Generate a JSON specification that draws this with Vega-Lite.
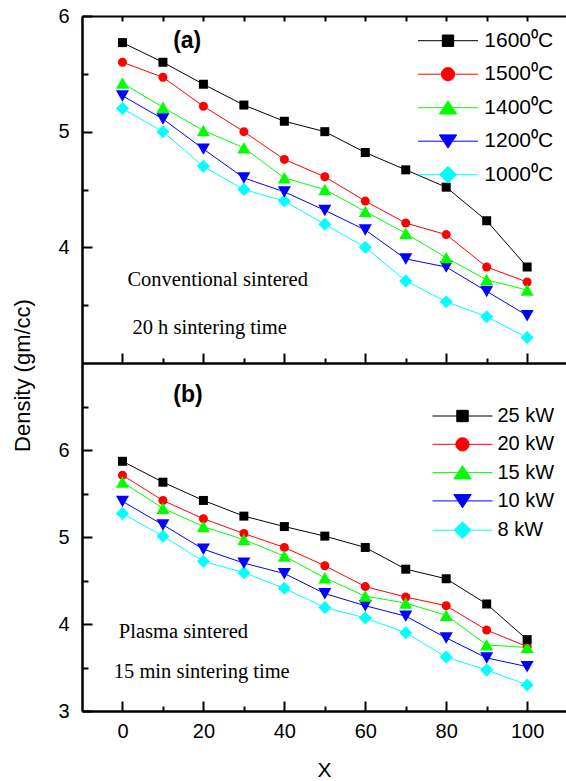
{
  "$schema": "https://vega.github.io/schema/vega-lite/v6.json",
  "padding": {"left": 10, "top": 6, "right": 0, "bottom": 0},
  "spacing": 0,
  "bounds": "flush",
  "datasets": {
    "a": [
      {"x": 0, "d": 5.20, "s": "1000\u2070C"}, {"x": 10, "d": 5.00, "s": "1000\u2070C"}, {"x": 20, "d": 4.70, "s": "1000\u2070C"}, {"x": 30, "d": 4.50, "s": "1000\u2070C"}, {"x": 40, "d": 4.40, "s": "1000\u2070C"}, {"x": 50, "d": 4.20, "s": "1000\u2070C"}, {"x": 60, "d": 4.00, "s": "1000\u2070C"}, {"x": 70, "d": 3.71, "s": "1000\u2070C"}, {"x": 80, "d": 3.53, "s": "1000\u2070C"}, {"x": 90, "d": 3.40, "s": "1000\u2070C"}, {"x": 100, "d": 3.22, "s": "1000\u2070C"},
      {"x": 0, "d": 5.31, "s": "1200\u2070C"}, {"x": 10, "d": 5.11, "s": "1200\u2070C"}, {"x": 20, "d": 4.85, "s": "1200\u2070C"}, {"x": 30, "d": 4.60, "s": "1200\u2070C"}, {"x": 40, "d": 4.48, "s": "1200\u2070C"}, {"x": 50, "d": 4.32, "s": "1200\u2070C"}, {"x": 60, "d": 4.15, "s": "1200\u2070C"}, {"x": 70, "d": 3.90, "s": "1200\u2070C"}, {"x": 80, "d": 3.83, "s": "1200\u2070C"}, {"x": 90, "d": 3.62, "s": "1200\u2070C"}, {"x": 100, "d": 3.41, "s": "1200\u2070C"},
      {"x": 0, "d": 5.60, "s": "1500\u2070C"}, {"x": 10, "d": 5.47, "s": "1500\u2070C"}, {"x": 20, "d": 5.22, "s": "1500\u2070C"}, {"x": 30, "d": 5.00, "s": "1500\u2070C"}, {"x": 40, "d": 4.76, "s": "1500\u2070C"}, {"x": 50, "d": 4.61, "s": "1500\u2070C"}, {"x": 60, "d": 4.40, "s": "1500\u2070C"}, {"x": 70, "d": 4.21, "s": "1500\u2070C"}, {"x": 80, "d": 4.11, "s": "1500\u2070C"}, {"x": 90, "d": 3.83, "s": "1500\u2070C"}, {"x": 100, "d": 3.70, "s": "1500\u2070C"},
      {"x": 0, "d": 5.42, "s": "1400\u2070C"}, {"x": 10, "d": 5.21, "s": "1400\u2070C"}, {"x": 20, "d": 5.01, "s": "1400\u2070C"}, {"x": 30, "d": 4.86, "s": "1400\u2070C"}, {"x": 40, "d": 4.60, "s": "1400\u2070C"}, {"x": 50, "d": 4.50, "s": "1400\u2070C"}, {"x": 60, "d": 4.31, "s": "1400\u2070C"}, {"x": 70, "d": 4.12, "s": "1400\u2070C"}, {"x": 80, "d": 3.91, "s": "1400\u2070C"}, {"x": 90, "d": 3.72, "s": "1400\u2070C"}, {"x": 100, "d": 3.63, "s": "1400\u2070C"},
      {"x": 0, "d": 5.77, "s": "1600\u2070C"}, {"x": 10, "d": 5.60, "s": "1600\u2070C"}, {"x": 20, "d": 5.41, "s": "1600\u2070C"}, {"x": 30, "d": 5.23, "s": "1600\u2070C"}, {"x": 40, "d": 5.09, "s": "1600\u2070C"}, {"x": 50, "d": 5.00, "s": "1600\u2070C"}, {"x": 60, "d": 4.82, "s": "1600\u2070C"}, {"x": 70, "d": 4.67, "s": "1600\u2070C"}, {"x": 80, "d": 4.52, "s": "1600\u2070C"}, {"x": 90, "d": 4.23, "s": "1600\u2070C"}, {"x": 100, "d": 3.83, "s": "1600\u2070C"}
    ],
    "b": [
      {"x": 0, "d": 5.27, "s": "8 kW"}, {"x": 10, "d": 5.01, "s": "8 kW"}, {"x": 20, "d": 4.72, "s": "8 kW"}, {"x": 30, "d": 4.59, "s": "8 kW"}, {"x": 40, "d": 4.41, "s": "8 kW"}, {"x": 50, "d": 4.19, "s": "8 kW"}, {"x": 60, "d": 4.07, "s": "8 kW"}, {"x": 70, "d": 3.90, "s": "8 kW"}, {"x": 80, "d": 3.62, "s": "8 kW"}, {"x": 90, "d": 3.47, "s": "8 kW"}, {"x": 100, "d": 3.30, "s": "8 kW"},
      {"x": 0, "d": 5.41, "s": "10 kW"}, {"x": 10, "d": 5.14, "s": "10 kW"}, {"x": 20, "d": 4.86, "s": "10 kW"}, {"x": 30, "d": 4.70, "s": "10 kW"}, {"x": 40, "d": 4.58, "s": "10 kW"}, {"x": 50, "d": 4.35, "s": "10 kW"}, {"x": 60, "d": 4.21, "s": "10 kW"}, {"x": 70, "d": 4.09, "s": "10 kW"}, {"x": 80, "d": 3.84, "s": "10 kW"}, {"x": 90, "d": 3.61, "s": "10 kW"}, {"x": 100, "d": 3.51, "s": "10 kW"},
      {"x": 0, "d": 5.71, "s": "20 kW"}, {"x": 10, "d": 5.42, "s": "20 kW"}, {"x": 20, "d": 5.21, "s": "20 kW"}, {"x": 30, "d": 5.04, "s": "20 kW"}, {"x": 40, "d": 4.88, "s": "20 kW"}, {"x": 50, "d": 4.67, "s": "20 kW"}, {"x": 60, "d": 4.43, "s": "20 kW"}, {"x": 70, "d": 4.31, "s": "20 kW"}, {"x": 80, "d": 4.21, "s": "20 kW"}, {"x": 90, "d": 3.93, "s": "20 kW"}, {"x": 100, "d": 3.74, "s": "20 kW"},
      {"x": 0, "d": 5.63, "s": "15 kW"}, {"x": 10, "d": 5.33, "s": "15 kW"}, {"x": 20, "d": 5.12, "s": "15 kW"}, {"x": 30, "d": 4.97, "s": "15 kW"}, {"x": 40, "d": 4.78, "s": "15 kW"}, {"x": 50, "d": 4.53, "s": "15 kW"}, {"x": 60, "d": 4.32, "s": "15 kW"}, {"x": 70, "d": 4.24, "s": "15 kW"}, {"x": 80, "d": 4.10, "s": "15 kW"}, {"x": 90, "d": 3.76, "s": "15 kW"}, {"x": 100, "d": 3.73, "s": "15 kW"},
      {"x": 0, "d": 5.87, "s": "25 kW"}, {"x": 10, "d": 5.63, "s": "25 kW"}, {"x": 20, "d": 5.42, "s": "25 kW"}, {"x": 30, "d": 5.24, "s": "25 kW"}, {"x": 40, "d": 5.12, "s": "25 kW"}, {"x": 50, "d": 5.01, "s": "25 kW"}, {"x": 60, "d": 4.88, "s": "25 kW"}, {"x": 70, "d": 4.63, "s": "25 kW"}, {"x": 80, "d": 4.52, "s": "25 kW"}, {"x": 90, "d": 4.23, "s": "25 kW"}, {"x": 100, "d": 3.82, "s": "25 kW"}
    ]
  },
  "resolve": {"scale": {"y": "independent"}},
  "vconcat": [
    {
      "width": 484,
      "height": 347,
      "data": {"name": "a"},
      "resolve": {"scale": {"color": "independent", "shape": "independent", "stroke": "independent"}, "axis": {"x": "independent", "y": "independent"}},
      "layer": [
        {
          "mark": {"type": "line", "strokeWidth": 1},
          "encoding": {
            "x": {"field": "x", "type": "quantitative", "scale": {"domain": [-10, 109.6], "nice": false, "zero": false}, "axis": {"orient": "bottom", "values": [0, 20, 40, 60, 80, 100], "labels": false, "tickSize": -10, "title": null}},
            "y": {"field": "d", "type": "quantitative", "scale": {"domain": [3, 6], "nice": false, "zero": false}, "axis": {"orient": "left", "values": [4, 5, 6], "tickSize": -10, "labelPadding": 23, "title": null}},
            "color": {"field": "s", "type": "nominal", "scale": {"domain": ["1600\u2070C", "1500\u2070C", "1400\u2070C", "1200\u2070C", "1000\u2070C"], "range": ["#000000", "#ff0000", "#00ff00", "#0000ff", "#00ffff"]}, "legend": null}
          }
        },
        {
          "mark": {"type": "point", "filled": true, "size": 81, "opacity": 1, "strokeWidth": 0},
          "encoding": {
            "x": {"field": "x", "type": "quantitative", "axis": {"orient": "bottom", "values": [10, 30, 50, 70, 90], "labels": false, "tickSize": -5, "title": null}},
            "y": {"field": "d", "type": "quantitative", "axis": {"orient": "left", "values": [3.5, 4.5, 5.5], "labels": false, "tickSize": -6, "title": null}},
            "color": {"field": "s", "type": "nominal", "scale": {"domain": ["1600\u2070C", "1500\u2070C", "1400\u2070C", "1200\u2070C", "1000\u2070C"], "range": ["#000000", "#ff0000", "#00ff00", "#0000ff", "#00ffff"]}, "legend": null},
            "shape": {"field": "s", "type": "nominal", "scale": {"domain": ["1600\u2070C", "1500\u2070C", "1400\u2070C", "1200\u2070C", "1000\u2070C"], "range": ["square", "circle", "M0,-1.3L1.45,1.25H-1.45Z", "M0,1.3L1.45,-1.25H-1.45Z", "M0,-1.45L1.45,0L0,1.45L-1.45,0Z"]}, "legend": null}
          }
        },
        {
          "transform": [{"filter": "false"}],
          "mark": {"type": "point", "filled": true, "opacity": 1},
          "encoding": {
            "x": {"field": "x", "type": "quantitative", "axis": null},
            "y": {"field": "d", "type": "quantitative", "axis": null},
            "color": {"field": "s", "type": "nominal", "scale": {"domain": ["1600\u2070C", "1500\u2070C", "1400\u2070C", "1200\u2070C", "1000\u2070C"], "range": ["#000000", "#ff0000", "#00ff00", "#0000ff", "#00ffff"]}, "legend": {"orient": "none", "legendX": 355.5, "legendY": 14.2, "title": null, "symbolSize": 144, "symbolStrokeWidth": 1, "symbolOpacity": 1, "labelFont": "Liberation Sans", "labelFontSize": 21, "labelColor": "black", "labelOffset": 25.8, "rowPadding": 11.5, "padding": 0, "labelLimit": 0}},
            "stroke": {"field": "s", "type": "nominal", "scale": {"domain": ["1600\u2070C", "1500\u2070C", "1400\u2070C", "1200\u2070C", "1000\u2070C"], "range": ["#000000", "#ff0000", "#00ff00", "#0000ff", "#00ffff"]}, "legend": {"orient": "none", "legendX": 355.5, "legendY": 14.2, "title": null, "symbolSize": 144, "symbolStrokeWidth": 1, "symbolOpacity": 1, "labelFont": "Liberation Sans", "labelFontSize": 21, "labelColor": "black", "labelOffset": 25.8, "rowPadding": 11.5, "padding": 0, "labelLimit": 0}},
            "shape": {"field": "s", "type": "nominal", "scale": {"domain": ["1600\u2070C", "1500\u2070C", "1400\u2070C", "1200\u2070C", "1000\u2070C"], "range": ["M-5,0H5M-0.95,-0.95H0.95V0.95H-0.95Z", "M-5,0H5M1.1,0A1.1,1.1,0,1,1,-1.1,0A1.1,1.1,0,1,1,1.1,0Z", "M-5,0H5M0,-1.15L1.45,1.05H-1.45Z", "M-5,0H5M0,1.15L1.45,-1.05H-1.45Z", "M-5,0H5M0,-1.4L1.4,0L0,1.4L-1.4,0Z"]}, "legend": {"orient": "none", "legendX": 355.5, "legendY": 14.2, "title": null, "symbolSize": 144, "symbolStrokeWidth": 1, "symbolOpacity": 1, "labelFont": "Liberation Sans", "labelFontSize": 21, "labelColor": "black", "labelOffset": 25.8, "rowPadding": 11.5, "padding": 0, "labelLimit": 0}}
          }
        },
        {
          "data": {"values": [{"t": "(a)"}]},
          "mark": {"type": "text", "font": "Liberation Sans", "fontWeight": "bold", "fontSize": 23, "align": "center", "baseline": "middle", "color": "black"},
          "encoding": {
            "x": {"datum": 16.0, "type": "quantitative", "axis": {"orient": "top", "values": [0, 10, 20, 30, 40, 50, 60, 70, 80, 90, 100], "labels": false, "tickSize": -5, "title": null}},
            "y": {"datum": 5.78, "type": "quantitative", "axis": null},
            "text": {"field": "t"}
          }
        },
        {
          "data": {"values": [{"t": "Conventional sintered"}]},
          "mark": {"type": "text", "font": "Liberation Serif", "fontSize": 20.5, "align": "left", "baseline": "middle", "color": "black"},
          "encoding": {
            "x": {"datum": 1.23, "type": "quantitative", "axis": null},
            "y": {"datum": 3.718, "type": "quantitative", "axis": null},
            "text": {"field": "t"}
          }
        },
        {
          "data": {"values": [{"t": "20 h sintering time"}]},
          "mark": {"type": "text", "font": "Liberation Serif", "fontSize": 20.5, "align": "left", "baseline": "middle", "color": "black"},
          "encoding": {
            "x": {"datum": 2.47, "type": "quantitative", "axis": null},
            "y": {"datum": 3.303, "type": "quantitative", "axis": null},
            "text": {"field": "t"}
          }
        }
      ]
    },
    {
      "width": 484,
      "height": 348,
      "data": {"name": "b"},
      "resolve": {"scale": {"color": "independent", "shape": "independent", "stroke": "independent"}, "axis": {"x": "independent", "y": "independent"}},
      "layer": [
        {
          "mark": {"type": "line", "strokeWidth": 1},
          "encoding": {
            "x": {"field": "x", "type": "quantitative", "scale": {"domain": [-10, 109.6], "nice": false, "zero": false}, "axis": {"orient": "bottom", "values": [0, 20, 40, 60, 80, 100], "tickSize": -10, "labelPadding": 20, "title": "X", "titleFontSize": 21, "titlePadding": 18}},
            "y": {"field": "d", "type": "quantitative", "scale": {"domain": [3, 7], "nice": false, "zero": false}, "axis": {"orient": "left", "values": [3, 4, 5, 6], "tickSize": -10, "labelPadding": 23, "title": "Density (gm/cc)", "titleFontSize": 22, "titleAngle": -90, "titleX": -60, "titleY": 12, "titleAlign": "center", "titleBaseline": "middle"}},
            "color": {"field": "s", "type": "nominal", "scale": {"domain": ["25 kW", "20 kW", "15 kW", "10 kW", "8 kW"], "range": ["#000000", "#ff0000", "#00ff00", "#0000ff", "#00ffff"]}, "legend": null}
          }
        },
        {
          "mark": {"type": "point", "filled": true, "size": 81, "opacity": 1, "strokeWidth": 0},
          "encoding": {
            "x": {"field": "x", "type": "quantitative", "axis": {"orient": "bottom", "values": [10, 30, 50, 70, 90], "labels": false, "tickSize": -5, "title": null}},
            "y": {"field": "d", "type": "quantitative", "axis": {"orient": "left", "values": [3.5, 4.5, 5.5, 6.5], "labels": false, "tickSize": -6, "title": null}},
            "color": {"field": "s", "type": "nominal", "scale": {"domain": ["25 kW", "20 kW", "15 kW", "10 kW", "8 kW"], "range": ["#000000", "#ff0000", "#00ff00", "#0000ff", "#00ffff"]}, "legend": null},
            "shape": {"field": "s", "type": "nominal", "scale": {"domain": ["25 kW", "20 kW", "15 kW", "10 kW", "8 kW"], "range": ["square", "circle", "M0,-1.3L1.45,1.25H-1.45Z", "M0,1.3L1.45,-1.25H-1.45Z", "M0,-1.45L1.45,0L0,1.45L-1.45,0Z"]}, "legend": null}
          }
        },
        {
          "transform": [{"filter": "false"}],
          "mark": {"type": "point", "filled": true, "opacity": 1},
          "encoding": {
            "x": {"field": "x", "type": "quantitative", "axis": null},
            "y": {"field": "d", "type": "quantitative", "axis": null},
            "color": {"field": "s", "type": "nominal", "scale": {"domain": ["25 kW", "20 kW", "15 kW", "10 kW", "8 kW"], "range": ["#000000", "#ff0000", "#00ff00", "#0000ff", "#00ffff"]}, "legend": {"orient": "none", "legendX": 370.5, "legendY": 43, "title": null, "symbolSize": 144, "symbolStrokeWidth": 1, "symbolOpacity": 1, "labelFont": "Liberation Sans", "labelFontSize": 20, "labelColor": "black", "labelOffset": 25, "rowPadding": 8.3, "padding": 0, "labelLimit": 0, "labelExpr": "datum.label == '8 kW' ? '\u00a08 kW' : datum.label"}},
            "stroke": {"field": "s", "type": "nominal", "scale": {"domain": ["25 kW", "20 kW", "15 kW", "10 kW", "8 kW"], "range": ["#000000", "#ff0000", "#00ff00", "#0000ff", "#00ffff"]}, "legend": {"orient": "none", "legendX": 370.5, "legendY": 43, "title": null, "symbolSize": 144, "symbolStrokeWidth": 1, "symbolOpacity": 1, "labelFont": "Liberation Sans", "labelFontSize": 20, "labelColor": "black", "labelOffset": 25, "rowPadding": 8.3, "padding": 0, "labelLimit": 0, "labelExpr": "datum.label == '8 kW' ? '\u00a08 kW' : datum.label"}},
            "shape": {"field": "s", "type": "nominal", "scale": {"domain": ["25 kW", "20 kW", "15 kW", "10 kW", "8 kW"], "range": ["M-5,0H5M-0.95,-0.95H0.95V0.95H-0.95Z", "M-5,0H5M1.1,0A1.1,1.1,0,1,1,-1.1,0A1.1,1.1,0,1,1,1.1,0Z", "M-5,0H5M0,-1.15L1.45,1.05H-1.45Z", "M-5,0H5M0,1.15L1.45,-1.05H-1.45Z", "M-5,0H5M0,-1.4L1.4,0L0,1.4L-1.4,0Z"]}, "legend": {"orient": "none", "legendX": 370.5, "legendY": 43, "title": null, "symbolSize": 144, "symbolStrokeWidth": 1, "symbolOpacity": 1, "labelFont": "Liberation Sans", "labelFontSize": 20, "labelColor": "black", "labelOffset": 25, "rowPadding": 8.3, "padding": 0, "labelLimit": 0, "labelExpr": "datum.label == '8 kW' ? '\u00a08 kW' : datum.label"}}
          }
        },
        {
          "data": {"values": [{"t": "(b)"}]},
          "mark": {"type": "text", "font": "Liberation Sans", "fontWeight": "bold", "fontSize": 23, "align": "center", "baseline": "middle", "color": "black"},
          "encoding": {
            "x": {"datum": 16.2, "type": "quantitative", "axis": null},
            "y": {"datum": 6.632, "type": "quantitative", "axis": null},
            "text": {"field": "t"}
          }
        },
        {
          "data": {"values": [{"t": "Plasma sintered"}]},
          "mark": {"type": "text", "font": "Liberation Serif", "fontSize": 20.5, "align": "left", "baseline": "middle", "color": "black"},
          "encoding": {
            "x": {"datum": -0.91, "type": "quantitative", "axis": null},
            "y": {"datum": 3.912, "type": "quantitative", "axis": null},
            "text": {"field": "t"}
          }
        },
        {
          "data": {"values": [{"t": "15 min sintering time"}]},
          "mark": {"type": "text", "font": "Liberation Serif", "fontSize": 20.5, "align": "left", "baseline": "middle", "color": "black"},
          "encoding": {
            "x": {"datum": -2.15, "type": "quantitative", "axis": null},
            "y": {"datum": 3.452, "type": "quantitative", "axis": null},
            "text": {"field": "t"}
          }
        }
      ]
    }
  ],
  "config": {
    "view": {"stroke": null},
    "font": "Liberation Sans",
    "axis": {"grid": false, "domainColor": "black", "domainWidth": 2, "tickColor": "black", "tickWidth": 2, "labelColor": "black", "labelFont": "Liberation Sans", "labelFontSize": 20, "titleColor": "black", "titleFont": "Liberation Sans", "titleFontWeight": "normal"}
  }
}
